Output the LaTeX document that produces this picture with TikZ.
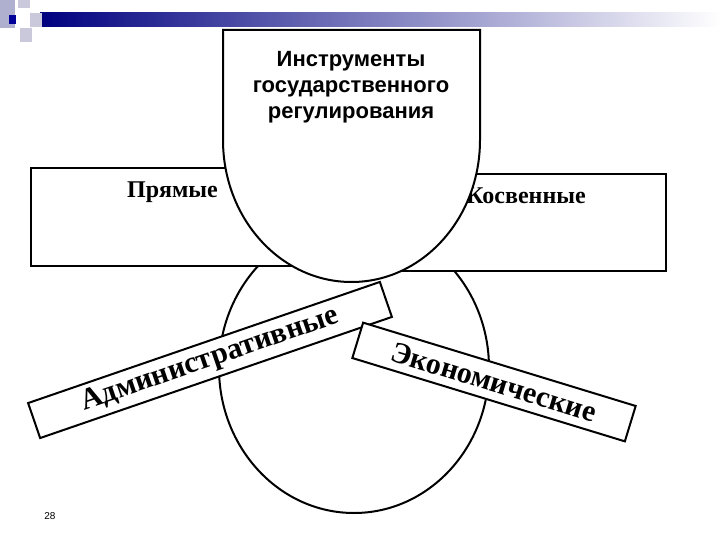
\documentclass[tikz,border=0pt]{standalone}
\usepackage{fontspec}
\setmainfont{Liberation Serif}
\newfontfamily\hfont{Liberation Sans}
\usetikzlibrary{shapes.geometric}
\begin{document}
\begin{tikzpicture}[x=1pt,y=-1pt,line width=2pt,
  boxst/.style={draw,fill=white},
  lab/.style={font=\bfseries\fontsize{24}{26}\selectfont}]
\useasboundingbox (0,0) rectangle (720,540);
\fill[white] (0,0) rectangle (720,540);
% decoration
\shade[left color=blue!50!black,right color=white] (40,13) rectangle (720,27);
\fill[blue!25!gray!50] (0,0) rectangle (15,28);
\fill[blue!20!gray!35] (18,0) rectangle (30,8);
\fill[blue!20!gray!35] (20,28) rectangle (32,42);
\fill[blue!60!black] (9,15) rectangle (16,24);
\fill[blue!20!gray!35] (30,13) rectangle (42,27);
% circle
\node[draw,ellipse,minimum width=270,minimum height=290,inner sep=0] (circ) at (354,368) {};
% boxes
\node[boxst,minimum width=283,minimum height=98,anchor=north west,inner sep=0] (pr) at (30,167) {};
\node[lab,anchor=north] at ([yshift=-10]pr.north) {Прямые};
\node[boxst,minimum width=280,minimum height=97,anchor=north west,inner sep=0] (ks) at (385,173) {};
\node[lab,anchor=north] at ([yshift=-10]ks.north) {Косвенные};
% top shape
\draw[fill=white] (223,140) -- (223,30) -- (480,30) -- (480,140) arc[start angle=0,end angle=180,x radius=128.5,y radius=142] -- cycle;
\node[font=\hfont\bfseries\fontsize{22}{26}\selectfont,align=center] (top) at (351,87) {Инструменты\\государственного\\регулирования};
% banners
\node[boxst,rotate=19,minimum width=372,minimum height=37,inner sep=0,
  font=\bfseries\fontsize{30}{32}\selectfont] (adm) at (210,360) {Административные};
\node[boxst,rotate=-17,minimum width=285,minimum height=37,inner sep=0,
  font=\bfseries\fontsize{30}{32}\selectfont] (eco) at (494,382) {Экономические};
\node[font=\hfont\fontsize{10}{12}\selectfont] (num) at (50,516) {28};
\end{tikzpicture}
\end{document}
